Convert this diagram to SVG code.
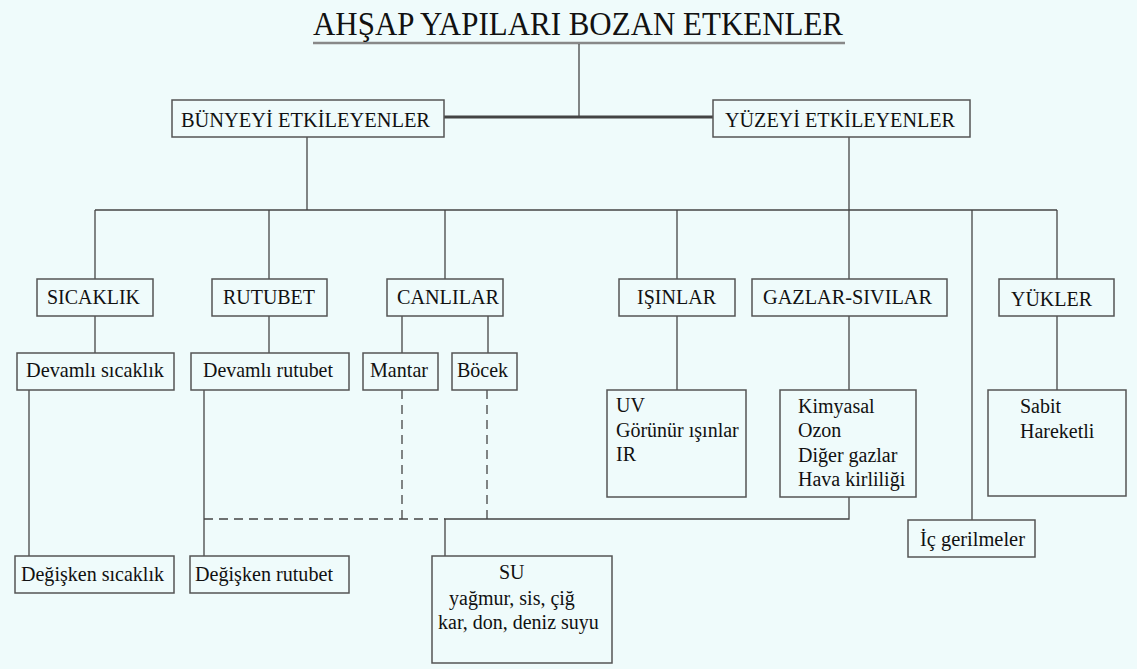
<svg xmlns="http://www.w3.org/2000/svg" width="1137" height="669" viewBox="0 0 1137 669">
<style>
.bg{fill:#effbfb}
.box{fill:none;stroke:#555;stroke-width:1.5}
.ln{fill:none;stroke:#444;stroke-width:1.3}
.dash{stroke-dasharray:9 6}
.t{font-family:"Liberation Serif","Times New Roman",serif;font-size:20px;fill:#111}
.c{text-anchor:middle}
.h{font-size:21.5px}
</style>
<rect class="bg" x="0" y="0" width="1137" height="669"/>

<g id="connectors">
  <line x1="313" y1="43" x2="845" y2="43" stroke="#888" stroke-width="2.5"/>
  <line class="ln" x1="579" y1="44" x2="579" y2="117"/>
  <line x1="444" y1="117" x2="713" y2="117" stroke="#444" stroke-width="3"/>
  <line class="ln" x1="307" y1="137" x2="307" y2="210"/>
  <line class="ln" x1="849" y1="137" x2="849" y2="279"/>
  <line class="ln" x1="95" y1="210" x2="1057" y2="210"/>
  <line class="ln" x1="95" y1="210" x2="95" y2="279"/>
  <line class="ln" x1="269" y1="210" x2="269" y2="279"/>
  <line class="ln" x1="445" y1="210" x2="445" y2="279"/>
  <line class="ln" x1="677" y1="210" x2="677" y2="279"/>
  <line class="ln" x1="1057" y1="210" x2="1057" y2="279"/>
  <line class="ln" x1="972" y1="210" x2="972" y2="520"/>
  <line class="ln" x1="95" y1="316" x2="95" y2="353"/>
  <line class="ln" x1="269" y1="316" x2="269" y2="353"/>
  <line class="ln" x1="402" y1="316" x2="402" y2="353"/>
  <line class="ln" x1="488" y1="316" x2="488" y2="353"/>
  <line class="ln" x1="677" y1="316" x2="677" y2="390"/>
  <line class="ln" x1="849" y1="316" x2="849" y2="390"/>
  <line class="ln" x1="1057" y1="316" x2="1057" y2="390"/>
  <line class="ln" x1="29" y1="390" x2="29" y2="556"/>
  <line class="ln" x1="204" y1="390" x2="204" y2="556"/>
  <line class="ln dash" x1="402" y1="390" x2="402" y2="519"/>
  <line class="ln dash" x1="487" y1="390" x2="487" y2="519"/>
  <line class="ln dash" x1="204" y1="519" x2="445" y2="519"/>
  <polyline class="ln" points="445,556 445,519 849,519 849,497"/>
</g>

<g id="title">
  <text class="t" x="313" y="35" textLength="530" lengthAdjust="spacingAndGlyphs" style="font-size:34px">AHŞAP YAPILARI BOZAN ETKENLER</text>
</g>

<g id="bunye">
  <rect class="box" x="172" y="100" width="272" height="37"/>
  <text class="t" x="181" y="127" textLength="249" lengthAdjust="spacingAndGlyphs" style="font-size:22px">BÜNYEYİ ETKİLEYENLER</text>
</g>
<g id="yuzey">
  <rect class="box" x="713" y="100" width="257" height="37"/>
  <text class="t" x="725" y="127" textLength="230" lengthAdjust="spacingAndGlyphs" style="font-size:22px">YÜZEYİ ETKİLEYENLER</text>
</g>

<g id="sicaklik">
  <rect class="box" x="37" y="279" width="116" height="37"/>
  <text class="t h" x="47" y="304" textLength="93" lengthAdjust="spacingAndGlyphs">SICAKLIK</text>
</g>
<g id="rutubet">
  <rect class="box" x="212" y="279" width="115" height="37"/>
  <text class="t h" x="223" y="304" textLength="92" lengthAdjust="spacingAndGlyphs">RUTUBET</text>
</g>
<g id="canlilar">
  <rect class="box" x="387" y="279" width="116" height="37"/>
  <text class="t h" x="397" y="304" textLength="102" lengthAdjust="spacingAndGlyphs">CANLILAR</text>
</g>
<g id="isinlar">
  <rect class="box" x="619" y="279" width="116" height="37"/>
  <text class="t h" x="637" y="304" textLength="79" lengthAdjust="spacingAndGlyphs">IŞINLAR</text>
</g>
<g id="gazlar">
  <rect class="box" x="752" y="279" width="195" height="37"/>
  <text class="t h" x="763" y="304" textLength="169" lengthAdjust="spacingAndGlyphs">GAZLAR-SIVILAR</text>
</g>
<g id="yukler">
  <rect class="box" x="999" y="279" width="115" height="37"/>
  <text class="t h" x="1011" y="306" textLength="81" lengthAdjust="spacingAndGlyphs">YÜKLER</text>
</g>

<g id="devamli-sicaklik">
  <rect class="box" x="17" y="353" width="157" height="37"/>
  <text class="t h" x="26" y="377" textLength="138" lengthAdjust="spacingAndGlyphs">Devamlı sıcaklık</text>
</g>
<g id="devamli-rutubet">
  <rect class="box" x="191" y="353" width="158" height="37"/>
  <text class="t h" x="203" y="377" textLength="130" lengthAdjust="spacingAndGlyphs">Devamlı rutubet</text>
</g>
<g id="mantar">
  <rect class="box" x="363" y="353" width="75" height="37"/>
  <text class="t h" x="370" y="377" textLength="58" lengthAdjust="spacingAndGlyphs">Mantar</text>
</g>
<g id="bocek">
  <rect class="box" x="452" y="353" width="65" height="37"/>
  <text class="t h" x="457" y="377" textLength="51" lengthAdjust="spacingAndGlyphs">Böcek</text>
</g>

<g id="uv">
  <rect class="box" x="607" y="390" width="139" height="107"/>
  <text class="t" x="616" y="412">UV</text>
  <text class="t" x="616" y="437">Görünür ışınlar</text>
  <text class="t" x="616" y="461">IR</text>
</g>
<g id="kimyasal">
  <rect class="box" x="780" y="390" width="136" height="107"/>
  <text class="t" x="798" y="413">Kimyasal</text>
  <text class="t" x="798" y="437">Ozon</text>
  <text class="t" x="798" y="462">Diğer gazlar</text>
  <text class="t" x="798" y="486">Hava kirliliği</text>
</g>
<g id="sabit">
  <rect class="box" x="988" y="390" width="138" height="106"/>
  <text class="t" x="1020" y="413">Sabit</text>
  <text class="t" x="1020" y="438">Hareketli</text>
</g>

<g id="ic-gerilmeler">
  <rect class="box" x="908" y="520" width="127" height="37"/>
  <text class="t h" x="920" y="546" textLength="105" lengthAdjust="spacingAndGlyphs">İç gerilmeler</text>
</g>

<g id="degisken-sicaklik">
  <rect class="box" x="15" y="556" width="159" height="37"/>
  <text class="t h" x="21" y="581" textLength="143" lengthAdjust="spacingAndGlyphs">Değişken sıcaklık</text>
</g>
<g id="degisken-rutubet">
  <rect class="box" x="190" y="556" width="159" height="37"/>
  <text class="t h" x="195" y="581" textLength="138" lengthAdjust="spacingAndGlyphs">Değişken rutubet</text>
</g>

<g id="su">
  <rect class="box" x="432" y="556" width="180" height="107"/>
  <text class="t" x="499" y="579">SU</text>
  <text class="t" x="449" y="605">yağmur, sis, çiğ</text>
  <text class="t" x="438" y="629">kar, don, deniz suyu</text>
</g>
</svg>
